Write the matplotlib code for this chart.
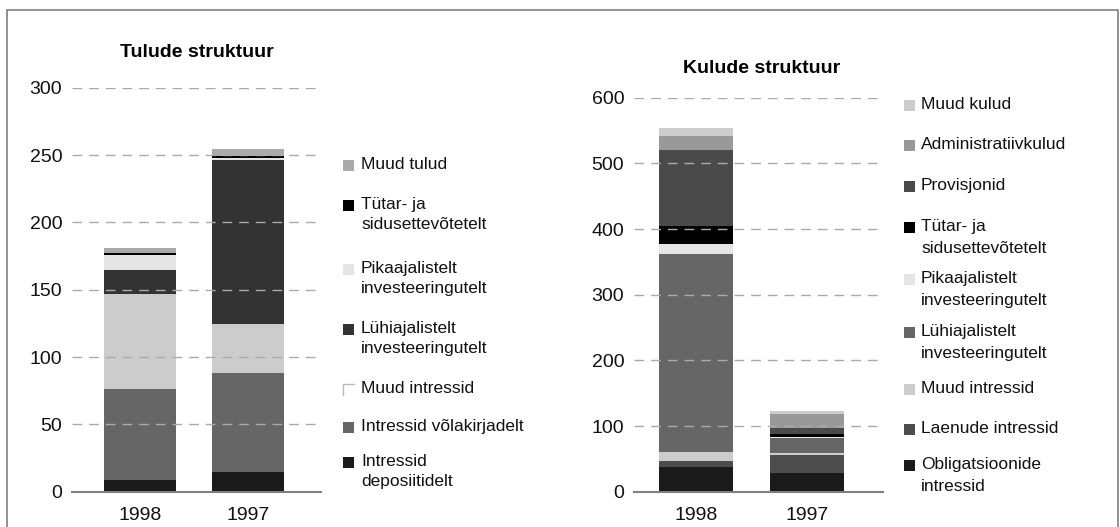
import matplotlib
matplotlib.use("Agg")
import matplotlib.pyplot as plt
from matplotlib.patches import Rectangle
from matplotlib.lines import Line2D

plt.rcParams['font.family'] = ['Liberation Sans', 'DejaVu Sans']

W, H = 1120, 527

years = ['1998', '1997']

# Tulude struktuur (bottom -> top)
tulud_names = ['Intressid\ndeposiitidelt', 'Intressid võlakirjadelt', 'Muud intressid',
               'Lühiajalistelt\ninvesteeringutelt', 'Pikaajalistelt\ninvesteeringutelt',
               'Tütar- ja\nsidusettevõtetelt', 'Muud tulud']
tulud_vals = [[9, 15],
              [67, 73],
              [71, 36.5],
              [18, 122],
              [11, 1.2],
              [1, 1.5],
              [4, 5.5]]
tulud_cols = ['#1a1a1a', '#666666', '#cccccc', '#333333', '#e5e5e5', '#000000', '#aaaaaa']

# Kulude struktuur (bottom -> top)
kulud_names = ['Obligatsioonide\nintressid', 'Laenude intressid', 'Muud intressid',
               'Lühiajalistelt\ninvesteeringutelt', 'Pikaajalistelt\ninvesteeringutelt',
               'Tütar- ja\nsidusettevõtetelt', 'Provisjonid', 'Administratiivkulud', 'Muud kulud']
kulud_vals = [[38, 29],
              [9, 27],
              [14, 3.5],
              [301, 22.5],
              [15, 2],
              [28, 4.5],
              [115, 8.5],
              [21.5, 21.5],
              [12.5, 4.5]]
kulud_cols = ['#1a1a1a', '#4d4d4d', '#cccccc', '#666666', '#e5e5e5', '#000000',
              '#4a4a4a', '#999999', '#cccccc']


def px(x, y):
    return x / W, 1 - y / H


fig = plt.figure(figsize=(W / 100, H / 100), dpi=100)

# outer frame
fig.add_artist(Rectangle(px(6.5, 560), 1111 / W, 550 / H, transform=fig.transFigure,
                         fill=False, edgecolor='#808080', linewidth=1.2))


def stacked(ax, vals, cols, ymax, step):
    x = range(len(years))
    bottom = [0] * len(years)
    for v, c in zip(vals, cols):
        ax.bar(x, v, bottom=bottom, width=0.67, color=c, zorder=2)
        bottom = [b + vi for b, vi in zip(bottom, v)]
    ax.set_ylim(0, ymax)
    ax.set_yticks(range(0, ymax + 1, step))
    ax.set_xticks(list(x))
    ax.set_xticklabels(years)
    ax.grid(axis='y', color='#aaaaaa', linestyle=(0, (7, 5)), linewidth=1.0, zorder=3)
    ax.set_axisbelow(False)
    for s in ['left', 'right', 'top']:
        ax.spines[s].set_visible(False)
    ax.spines['bottom'].set_color('#808080')
    ax.spines['bottom'].set_linewidth(1.5)
    ax.spines['bottom'].set_zorder(4)
    ax.tick_params(length=0, labelsize=14, pad=7, colors='#111111')
    ax.tick_params(axis='x', pad=11)


def legend(names, cols, x_icon, x_text, ys, step, special=None):
    for name, c, y in zip(names, cols, ys):
        lines = name.split('\n')
        for i, ln in enumerate(lines):
            fig.text(*px(x_text, y + i * step), ln, fontsize=12.5, va='center_baseline',
                     ha='left', color='#111111')
        if special is not None and name == special:
            x0, y0 = px(x_icon, y - 3)
            x1, y1 = px(x_icon + 11, y + 8)
            fig.add_artist(Rectangle((x0, y1), x1 - x0, y0 - y1, transform=fig.transFigure,
                                     facecolor='white', edgecolor='none'))
            fig.add_artist(Line2D([x0, x0, x1], [y1, y0, y0], transform=fig.transFigure,
                                  color='#bbbbbb', linewidth=1.0))
        else:
            x0, y0 = px(x_icon, y + 8)
            fig.add_artist(Rectangle((x0, y0), 11 / W, 11 / H, transform=fig.transFigure,
                                     facecolor=c, edgecolor='none'))


ax1 = fig.add_axes([72 / W, 1 - 491.7 / H, 249 / W, 404 / H])
stacked(ax1, tulud_vals, tulud_cols, 300, 50)
ax1.set_xlim(-0.63, 1.68)
fig.text(197 / W, 1 - 57 / H, 'Tulude struktuur', fontsize=14, fontweight='bold',
         ha='center', va='baseline')

ax2 = fig.add_axes([634 / W, 1 - 491.7 / H, 249 / W, 394 / H])
stacked(ax2, kulud_vals, kulud_cols, 600, 100)
ax2.set_xlim(-0.56, 1.685)
fig.text(762 / W, 1 - 73 / H, 'Kulude struktuur', fontsize=14, fontweight='bold',
         ha='center', va='baseline')

# legends, top entry first
left_y = [163, 203, 267, 327, 387, 425, 460]
legend(tulud_names[::-1], tulud_cols[::-1], 343, 361, left_y, 20, special='Muud intressid')

right_y = [103, 143, 184, 225, 277, 330, 387, 427, 463]
legend(kulud_names[::-1], kulud_cols[::-1], 904, 921, right_y, 22)

fig.savefig('out.png', dpi=100)
